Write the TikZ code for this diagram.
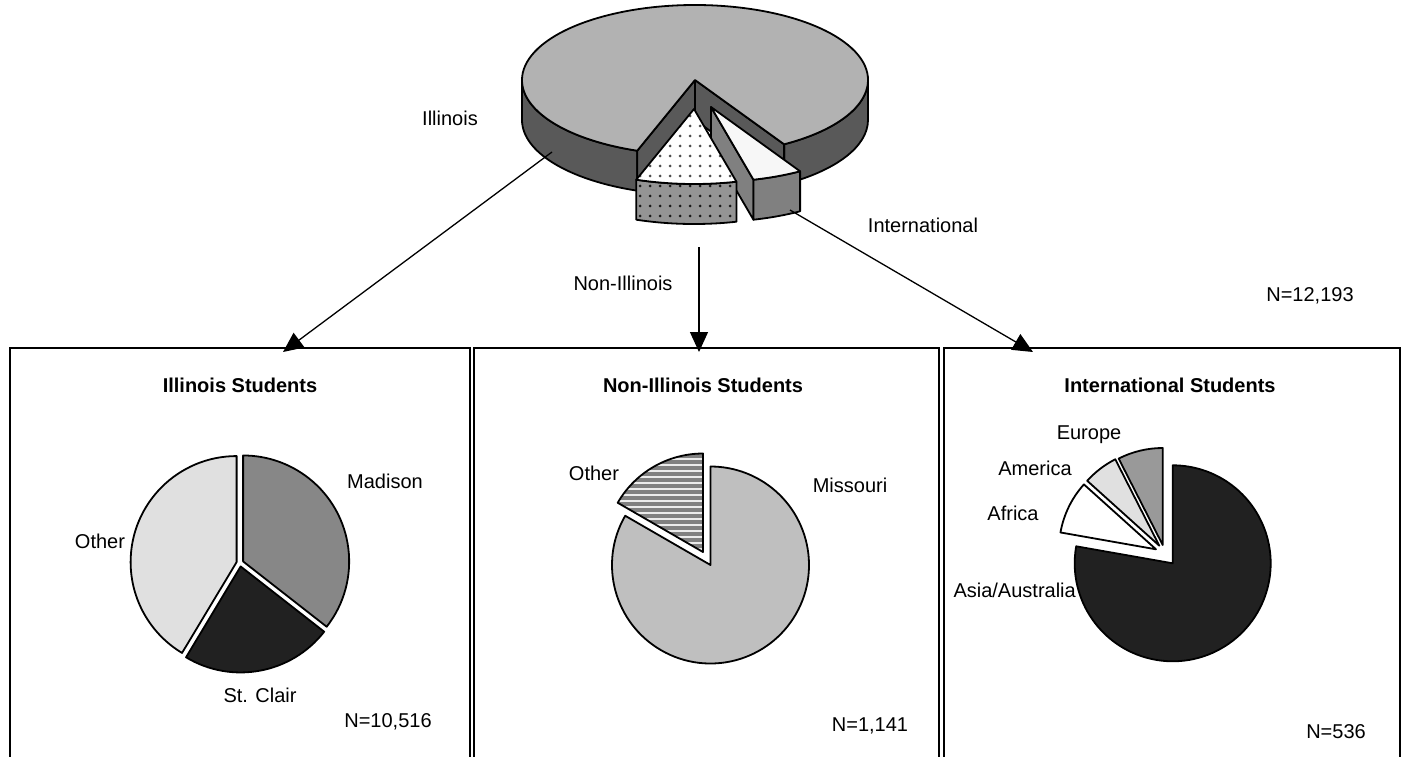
\documentclass[tikz,border=0pt]{standalone}
\usepackage{fontspec}
\setmainfont{Liberation Sans}
\usetikzlibrary{arrows.meta, patterns.meta, positioning}

\tikzset{
  lbl/.style={font=\fontsize{20}{24}\selectfont, inner sep=0pt},
  heading/.style={lbl, font=\fontsize{20}{24}\selectfont\bfseries},
  panel/.style={draw, line width=2.4pt, anchor=north west, minimum height=440pt, inner sep=0pt},
  slice/.style={draw, line width=1.8pt, line join=round},
  toarrow/.style={-{Triangle[length=20pt, width=18pt]}, line width=1.3pt},
}

\begin{document}
\begin{tikzpicture}[x=1pt, y=-1pt]
    \path[use as bounding box, clip] (0,0) rectangle (1401,756);

    \node[panel, minimum width=460pt] (ilbox) at (9,347) {};
    \node[panel, minimum width=465pt] (nibox) at (473,347) {};
    \node[panel, minimum width=456pt] (intbox) at (943,347) {};

    % top pie, all students
    \begin{scope}[shift={(695,80)}, yscale=-1]
        \draw[slice, fill=black!65] (180:173 and 75) arc[start angle=180, end angle=250.5, x radius=173, y radius=75] -- ++(0,-40) arc[start angle=250.5, end angle=180, x radius=173, y radius=75] -- cycle;
        \draw[slice, fill=black!65] (-59:173 and 75) arc[start angle=-59, end angle=0, x radius=173, y radius=75] -- ++(0,-40) arc[start angle=0, end angle=-59, x radius=173, y radius=75] -- cycle;
        \draw[slice, fill=black!65] (0,0) -- (250.5:173 and 75) -- ++(0,-40) -- (0,-40) -- cycle;
        \draw[slice, fill=black!65] (0,0) -- (-59:173 and 75) -- ++(0,-40) -- (0,-40) -- cycle;
        \draw[slice, fill=black!30] (0,0) -- (-59:173 and 75) arc[start angle=-59, end angle=250.5, x radius=173, y radius=75] -- cycle;

        % international
        \draw[slice, fill=black!50] (16,-27) -- ++(-75.8:173 and 75) -- ++(0,-40) -- (16,-67) -- cycle;
        \draw[slice, fill=black!50] ([shift={(16,-27)}]-75.8:173 and 75) arc[start angle=-75.8, end angle=-59, x radius=173, y radius=75] -- ++(0,-40) arc[start angle=-59, end angle=-75.8, x radius=173, y radius=75] -- cycle;
        \draw[slice, fill=black!3] (16,-27) -- ++(-75.8:173 and 75) arc[start angle=-75.8, end angle=-59, x radius=173, y radius=75] -- cycle;

        % non-illinois
        \draw[slice, preaction={fill=black!42}, pattern={Dots[distance=10pt, radius=1.5pt]}, pattern color=black!90] ([shift={(-1,-29)}]-109.5:173 and 75) arc[start angle=-109.5, end angle=-75.8, x radius=173, y radius=75] -- ++(0,-40) arc[start angle=-75.8, end angle=-109.5, x radius=173, y radius=75] -- cycle;
        \draw[slice, preaction={fill=white}, pattern={Dots[distance=10pt, radius=1.5pt]}, pattern color=black!70] (-1,-29) -- ++(-109.5:173 and 75) arc[start angle=-109.5, end angle=-75.8, x radius=173, y radius=75] -- cycle;
    \end{scope}

    % illinois pie
    \begin{scope}[shift={(240,563)}, yscale=-1]
        \draw[slice, fill=black!12] (164.5:3.5) -- ++(90:106) arc[start angle=90, end angle=239, radius=106] -- cycle;
        \draw[slice, fill=black!47] (26:3.5) -- ++(-38:106) arc[start angle=-38, end angle=90, radius=106] -- cycle;
        \draw[slice, fill=black!87] (-79.5:3.5) -- ++(-121:106) arc[start angle=-121, end angle=-38, radius=106] -- cycle;
    \end{scope}

    % non-illinois pie
    \begin{scope}[shift={(710.5,565)}, yscale=-1]
        \draw[slice, fill=black!25] (0,0) -- (150:98.5) arc[start angle=150, end angle=450, radius=98.5] -- cycle;
        \draw[slice, preaction={fill=black!8}, pattern={Lines[angle=0, distance=6pt, line width=3.2pt]}, pattern color=black!50] (120:15) -- ++(90:98.5) arc[start angle=90, end angle=150, radius=98.5] -- cycle;
    \end{scope}

    % international pie
    \begin{scope}[shift={(1172.7,563.3)}, yscale=-1]
        \draw[slice, fill=black!87] (0,0) -- (170:98) arc[start angle=170, end angle=450, radius=98] -- cycle;
        \draw[slice, fill=black!40] (-10,18.3) -- ++(90:97) arc[start angle=90, end angle=117, radius=97] -- cycle;
        \draw[slice, fill=black!12] (-13.4,17.6) -- ++(117:97) arc[start angle=117, end angle=138, radius=97] -- cycle;
        \draw[slice, fill=white] (-16.7,14) -- ++(138:97) arc[start angle=138, end angle=170, radius=97] -- cycle;
    \end{scope}

    \node[lbl] (illbl) at (450,118) {Illinois};
    \node[lbl] (intlbl) at (923,225) {International};
    \node[lbl] (nilbl) at (623,283) {Non-Illinois};
    \node[lbl] (ntot) at (1310,296) {N=12,193};

    \node[heading] (iltitle) at (240,385) {Illinois Students};
    \node[heading] (nititle) at (703,385) {Non-Illinois Students};
    \node[heading] (inttitle) at (1170,385) {International Students};

    \node[lbl] (madlbl) at (385,481) {Madison};
    \node[lbl] (othlbl) at (100,541) {Other};
    \node[lbl] (stclbl) at (260,695) {St. Clair};
    \node[lbl] (ilN) at (388,722) {N=10,516};

    \node[lbl] (oth2lbl) at (594,473) {Other};
    \node[lbl] (molbl) at (850,485) {Missouri};
    \node[lbl] (niN) at (870,726) {N=1,141};

    \node[lbl] (eulbl) at (1089,435) {Europe};
    \node[lbl] (amlbl) at (1035,468) {America};
    \node[lbl] (aflbl) at (1013,513) {Africa};
    \node[lbl, anchor=east] (aslbl) at (1076,590) {Asia/Australia};
    \node[lbl] (intN) at (1336,732) {N=536};

    \coordinate (ilpt) at (552,152);
    \coordinate (ilend) at (283,352);
    \coordinate (nipt) at (699,247);
    \coordinate (niend) at (699,352);
    \coordinate (intpt) at (790,210);
    \coordinate (intend) at (1033,352);
    \draw[toarrow] (ilpt) -- (ilend);
    \draw[toarrow] (nipt) -- (niend);
    \draw[toarrow] (intpt) -- (intend);
\end{tikzpicture}
\end{document}
